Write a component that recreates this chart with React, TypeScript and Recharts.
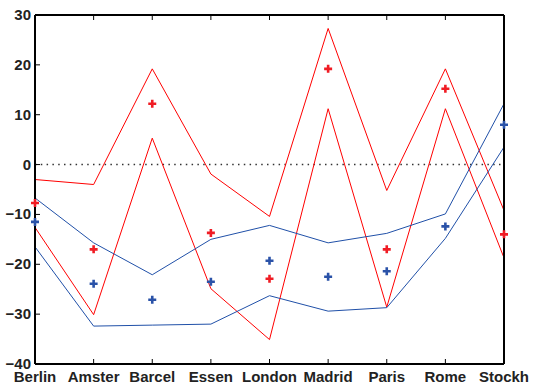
import React from "react";
import { ComposedChart, Line, XAxis, YAxis, ReferenceLine } from "recharts";

const cities = ["Berlin", "Amster", "Barcel", "Essen", "London", "Madrid", "Paris", "Rome", "Stockh"];
const redUpper = [-3, -4, 19.2, -1.9, -10.4, 27.3, -5.2, 19.2, -9.2];
const redLower = [-12.6, -30.1, 5.3, -24.9, -35.1, 11.2, -28.6, 11.2, -18.7];
const redMean = [-7.7, -17, 12.2, -13.7, -22.9, 19.2, -17, 15.2, -14];
const blueUpper = [-6.7, -15.7, -22.1, -15, -12.2, -15.7, -13.8, -9.9, 12.2];
const blueLower = [-16.5, -32.4, -32.2, -32, -26.3, -29.4, -28.7, -14.8, 3.5];
const blueMean = [-11.5, -23.9, -27.1, -23.5, -19.3, -22.5, -21.4, -12.4, 8];
const yTicks = [-40, -30, -20, -10, 0, 10, 20, 30];

const RED = "#ff0000";
const BLUE = "#2050a8";
const FONT = "'Liberation Sans', Arial, Helvetica, sans-serif";

const data = cities.map((city, i) => ({
  city,
  redUpper: redUpper[i],
  redLower: redLower[i],
  redMean: redMean[i],
  blueUpper: blueUpper[i],
  blueLower: blueLower[i],
  blueMean: blueMean[i],
}));

const plus = (color: string) => (props: any) => {
  const { cx, cy, index } = props;
  if (cx == null || cy == null) return <g key={index} />;
  return (
    <path
      key={index}
      d={`M${cx - 4},${cy}H${cx + 4}M${cx},${cy - 4}V${cy + 4}`}
      stroke={color}
      strokeWidth={2.6}
      fill="none"
    />
  );
};

const BottomTick = ({ x, y, payload }: any) => (
  <g>
    <line x1={x} x2={x} y1={y} y2={y - 5} stroke="#000" strokeWidth={1} />
    <text x={x} y={y + 18} textAnchor="middle" fontFamily={FONT} fontWeight="bold" fontSize={15} fill="#222">
      {payload.value}
    </text>
  </g>
);

const TopTick = ({ x, y }: any) => (
  <line x1={x} x2={x} y1={y} y2={y + 5} stroke="#000" strokeWidth={1} />
);

const LeftTick = ({ x, y, payload }: any) => (
  <g>
    <line x1={x} x2={x + 5} y1={y} y2={y} stroke="#000" strokeWidth={1} />
    <text x={x - 4} y={y + 5} textAnchor="end" fontFamily={FONT} fontWeight="bold" fontSize={15} fill="#222">
      {payload.value < 0 ? `\u2212${Math.abs(payload.value)}` : payload.value}
    </text>
  </g>
);

const RightTick = ({ x, y }: any) => (
  <line x1={x} x2={x - 5} y1={y} y2={y} stroke="#000" strokeWidth={1} />
);

export default function App() {
  return (
    <div style={{ position: "absolute", left: 0, top: 0, background: "#fff" }}>
      <ComposedChart width={533} height={386} data={data} margin={{ top: 14, right: 28, left: 0, bottom: 0 }}>
        <XAxis
          dataKey="city"
          scale="point"
          height={22}
          tickSize={0}
          tickMargin={0}
          tick={<BottomTick />}
          axisLine={{ stroke: "#000", strokeWidth: 2 }}
          interval={0}
        />
        <XAxis
          xAxisId="top"
          dataKey="city"
          orientation="top"
          scale="point"
          height={1}
          tickSize={0}
          tickMargin={0}
          tick={<TopTick />}
          axisLine={{ stroke: "#000", strokeWidth: 2 }}
          interval={0}
        />
        <YAxis
          type="number"
          domain={[-40, 30]}
          ticks={yTicks}
          width={35}
          tickSize={0}
          tickMargin={0}
          tick={<LeftTick />}
          axisLine={{ stroke: "#000", strokeWidth: 2 }}
          interval={0}
        />
        <YAxis
          yAxisId="right"
          orientation="right"
          type="number"
          domain={[-40, 30]}
          ticks={yTicks}
          width={1}
          tickSize={0}
          tickMargin={0}
          tick={<RightTick />}
          axisLine={{ stroke: "#000", strokeWidth: 2 }}
          interval={0}
        />
        <ReferenceLine y={0} stroke="#333" strokeWidth={1.5} strokeDasharray="1.5 4.3" />
        <Line dataKey="redUpper" stroke={RED} strokeWidth={1} dot={false} activeDot={false} type="linear" isAnimationActive={false} />
        <Line dataKey="redLower" stroke={RED} strokeWidth={1} dot={false} activeDot={false} type="linear" isAnimationActive={false} />
        <Line dataKey="blueUpper" stroke={BLUE} strokeWidth={1} dot={false} activeDot={false} type="linear" isAnimationActive={false} />
        <Line dataKey="blueLower" stroke={BLUE} strokeWidth={1} dot={false} activeDot={false} type="linear" isAnimationActive={false} />
        <Line dataKey="redMean" stroke="none" dot={plus("#f01c24")} activeDot={false} isAnimationActive={false} />
        <Line dataKey="blueMean" stroke="none" dot={plus("#2a52a8")} activeDot={false} isAnimationActive={false} />
      </ComposedChart>
    </div>
  );
}
